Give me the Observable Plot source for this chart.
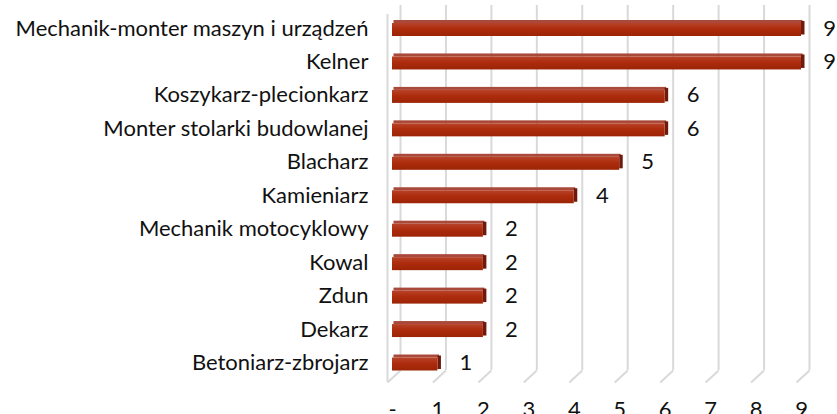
<!DOCTYPE html>
<html>
<head>
<meta charset="utf-8">
<script src="https://cdn.jsdelivr.net/npm/d3@7"></script>
<script src="https://cdn.jsdelivr.net/npm/@observablehq/plot@0.6"></script>
<style>
  html, body { margin: 0; padding: 0; background: #fff; }
  #chart svg { display: block; overflow: visible; }
</style>
</head>
<body>
<div id="chart"></div>
<script>
const categories = [
  "Mechanik-monter maszyn i urządzeń",
  "Kelner",
  "Koszykarz-plecionkarz",
  "Monter stolarki budowlanej",
  "Blacharz",
  "Kamieniarz",
  "Mechanik motocyklowy",
  "Kowal",
  "Zdun",
  "Dekarz",
  "Betoniarz-zbrojarz"
];
const values = [9, 9, 6, 6, 5, 4, 2, 2, 2, 2, 1];
const xTicks = [0, 1, 2, 3, 4, 5, 6, 7, 8, 9];
const xTickLabels = ["-", "1", "2", "3", "4", "5", "6", "7", "8", "9"];

const W = 837, H = 414;
const X0 = 392, X9 = 801;          // pixel range of x
const Y0 = 28, Y10 = 362.5;        // pixel centers of first/last bar
const pxX = 9 / (X9 - X0);         // data units per px (x)
const pxY = 10 / (Y10 - Y0);       // data units per px (y)

const rows = categories.map((c, i) => ({i, c, v: values[i]}));

const font = "Lato, 'Open Sans', sans-serif";
const FS = 22;

const plot = Plot.plot({
  width: W,
  height: H,
  marginLeft: X0,
  marginRight: W - X9,
  marginTop: 5,
  marginBottom: 32,
  style: {fontFamily: font, fontSize: FS + "px", color: "#111", background: "#fff"},
  x: {type: "linear", domain: [0, 9], range: [X0, X9]},
  y: {type: "linear", domain: [0, 10], range: [Y0, Y10]},
  marks: [
    // back wall gridlines
    Plot.ruleX(xTicks, {x: d => d, y1: (5 - Y0) * pxY, y2: (370 - Y0) * pxY, dx: 8, stroke: "#d9d9d9", strokeWidth: 2}),
    // left side wall edge
    Plot.ruleX([0], {x: d => d, y1: (14 - Y0) * pxY, y2: (382 - Y0) * pxY, dx: -5, stroke: "#d9d9d9", strokeWidth: 2}),
    // floor diagonals
    Plot.link(xTicks, {x1: d => d - 5 * pxX, x2: d => d + 8 * pxX, y1: (382 - Y0) * pxY, y2: (370 - Y0) * pxY, stroke: "#d9d9d9", strokeWidth: 2}),
    // bar top face
    Plot.rect(rows, {x1: 0, x2: "v", y1: d => d.i - 8 * pxY, y2: d => d.i - 5 * pxY, dx: 1.5, fill: "#a9493a"}),
    // bar end face
    Plot.rect(rows, {x1: "v", x2: d => d.v + 3.5 * pxX, y1: d => d.i - 7 * pxY, y2: d => d.i + 6.5 * pxY, fill: "#6f1a0c"}),
    // bar front face
    Plot.rect(rows, {x1: 0, x2: "v", y1: d => d.i - 5 * pxY, y2: d => d.i + 8 * pxY, fill: "url(#barGrad)"}),
    // value labels
    Plot.text(rows, {x: "v", y: "i", text: d => String(d.v), dx: 28, fontSize: FS, fill: "#111", fontFamily: font}),
    // y axis (category labels)
    Plot.axisY(rows.map(d => d.i), {tickFormat: i => categories[i], tickSize: 0, tickPadding: 24, fontSize: FS, fill: "#111", fontFamily: font, label: null}),
    // x axis
    Plot.axisX(xTicks, {tickFormat: d => xTickLabels[d], tickSize: 0, tickPadding: 19, fontSize: FS, fill: "#111", fontFamily: font, label: null})
  ]
});

// gradient definition for bar front
const svgEl = plot.tagName.toLowerCase() === "svg" ? plot : plot.querySelector("svg");
const defs = d3.select(svgEl).insert("defs", ":first-child");
const g = defs.append("linearGradient").attr("id", "barGrad").attr("x1", 0).attr("y1", 0).attr("x2", 0).attr("y2", 1);
g.append("stop").attr("offset", "0%").attr("stop-color", "#b8432a");
g.append("stop").attr("offset", "45%").attr("stop-color", "#ad2c0d");
g.append("stop").attr("offset", "100%").attr("stop-color", "#9c2406");

document.getElementById("chart").appendChild(plot);
</script>
</body>
</html>
